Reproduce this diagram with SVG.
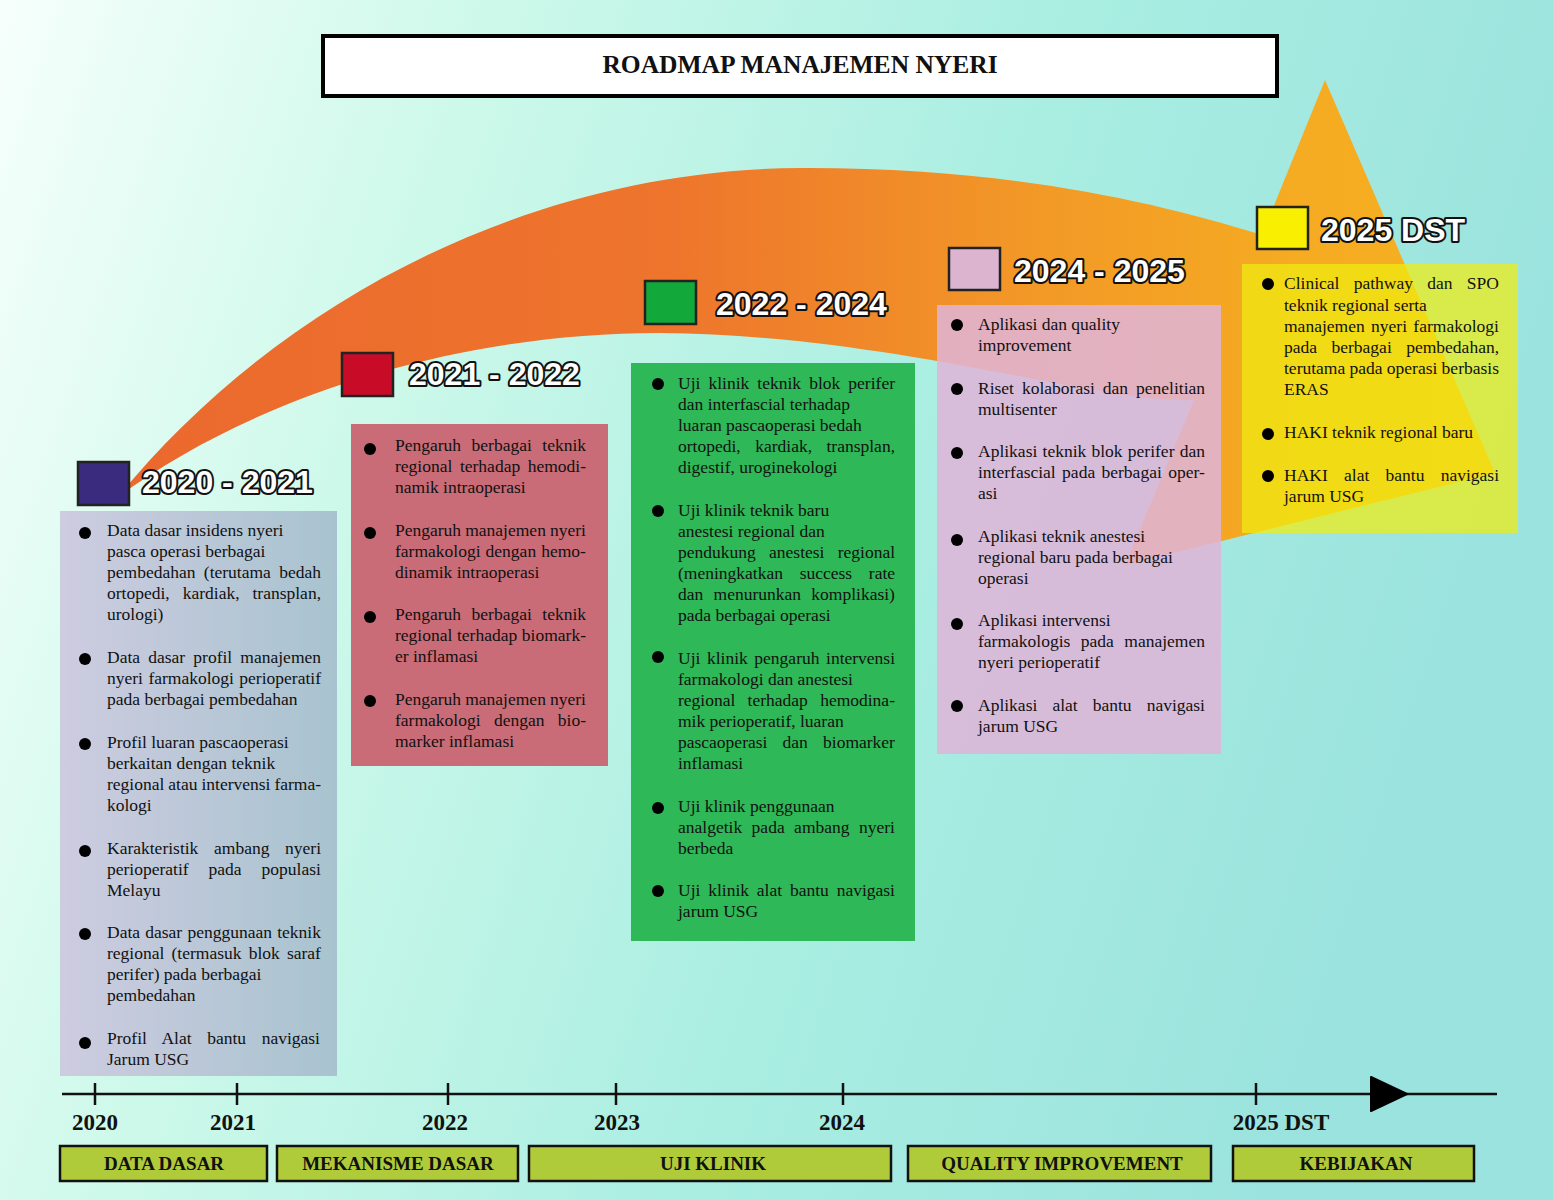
<svg xmlns="http://www.w3.org/2000/svg" width="1553" height="1200" viewBox="0 0 1553 1200">
<defs>
<linearGradient id="bg" x1="0" y1="0" x2="1" y2="0.25">
<stop offset="0" stop-color="#f6fffc"/>
<stop offset="0.3" stop-color="#cdf9ea"/>
<stop offset="0.65" stop-color="#aaeee2"/>
<stop offset="1" stop-color="#9be3de"/>
</linearGradient>
<linearGradient id="org" gradientUnits="userSpaceOnUse" x1="118" y1="0" x2="1500" y2="0">
<stop offset="0" stop-color="#eb682e"/>
<stop offset="0.4" stop-color="#ee752c"/>
<stop offset="0.65" stop-color="#f29727"/>
<stop offset="0.85" stop-color="#f5ab22"/>
<stop offset="1" stop-color="#f6b021"/>
</linearGradient>
<linearGradient id="g1" x1="0" y1="0" x2="1" y2="0">
<stop offset="0" stop-color="#cdcce0"/>
<stop offset="1" stop-color="#a8c3cf"/>
</linearGradient>
<style>
.t{font-family:"Liberation Serif","Times New Roman",serif;font-size:17.5px;fill:#111}
.yr{font-family:"Liberation Sans",Arial,sans-serif;font-weight:bold;font-size:32px;fill:#fff;stroke:#111;stroke-width:4;paint-order:stroke;stroke-linejoin:round}
.sq{stroke:#222;stroke-width:2.5}
.ax{font-family:"Liberation Serif","Times New Roman",serif;font-weight:bold;font-size:23px;fill:#111;text-anchor:middle}
.ph rect{fill:#b0cb3a;stroke:#111;stroke-width:2.5}
.ph text{font-family:"Liberation Serif","Times New Roman",serif;font-weight:bold;font-size:19px;fill:#111;text-anchor:middle}
.b{fill:#000}
</style>
</defs>
<rect width="1553" height="1200" fill="url(#bg)"/>

<g id="arrow">
<path d="M118,497 C270,310 520,170 800,168 C1000,167 1150,200 1262,235 L1325,80 L1495,473 L1125,565 L1194,400 C1100,405 900,335 660,333 C450,333 250,400 118,497 Z" fill="url(#org)"/>
</g>

<g id="title">
<rect x="323" y="36" width="954" height="60" fill="#fff" stroke="#000" stroke-width="4"/>
<text x="800" y="73" text-anchor="middle" style="font-family:'Liberation Serif','Times New Roman',serif;font-weight:bold;font-size:25.5px;fill:#111">ROADMAP MANAJEMEN NYERI</text>
</g>

<g id="phase-2020">
<rect x="60" y="511" width="277" height="565" fill="url(#g1)"/>
<rect class="sq" x="78" y="462" width="51" height="43" fill="#3a2b7f"/>
<text class="yr" x="142" y="493">2020 - 2021</text>
<circle class="b" cx="85" cy="533" r="6"/><circle class="b" cx="85" cy="659" r="6"/><circle class="b" cx="85" cy="744" r="6"/><circle class="b" cx="85" cy="851" r="6"/><circle class="b" cx="85" cy="934" r="6"/><circle class="b" cx="85" cy="1043" r="6"/>
<text class="t" x="107" y="536">Data dasar insidens nyeri</text>
<text class="t" x="107" y="557">pasca operasi berbagai</text>
<text class="t" x="107" y="578" word-spacing="4">pembedahan (terutama bedah</text>
<text class="t" x="107" y="599" word-spacing="8.6">ortopedi, kardiak, transplan,</text>
<text class="t" x="107" y="620">urologi)</text>
<text class="t" x="107" y="663" word-spacing="3.8">Data dasar profil manajemen</text>
<text class="t" x="107" y="684" word-spacing="1.05">nyeri farmakologi perioperatif</text>
<text class="t" x="107" y="705">pada berbagai pembedahan</text>
<text class="t" x="107" y="748">Profil luaran pascaoperasi</text>
<text class="t" x="107" y="769">berkaitan dengan teknik</text>
<text class="t" x="107" y="790" word-spacing="-0.4">regional atau intervensi farma-</text>
<text class="t" x="107" y="811">kologi</text>
<text class="t" x="107" y="854" word-spacing="11.3">Karakteristik ambang nyeri</text>
<text class="t" x="107" y="875" word-spacing="15.6">perioperatif pada populasi</text>
<text class="t" x="107" y="896">Melayu</text>
<text class="t" x="107" y="938" word-spacing="0.87">Data dasar penggunaan teknik</text>
<text class="t" x="107" y="959" word-spacing="2.8">regional (termasuk blok saraf</text>
<text class="t" x="107" y="980">perifer) pada berbagai</text>
<text class="t" x="107" y="1001">pembedahan</text>
<text class="t" x="107" y="1044" word-spacing="11.2">Profil Alat bantu navigasi</text>
<text class="t" x="107" y="1065">Jarum USG</text>
</g>

<g id="phase-2021">
<rect x="351" y="424" width="257" height="342" fill="#c96c77"/>
<rect class="sq" x="342" y="353" width="51" height="43" fill="#c80c28"/>
<text class="yr" x="409" y="385">2021 - 2022</text>
<circle class="b" cx="370" cy="449" r="6"/><circle class="b" cx="370" cy="533" r="6"/><circle class="b" cx="370" cy="617" r="6"/><circle class="b" cx="370" cy="701" r="6"/>
<text class="t" x="395" y="451" word-spacing="6.1">Pengaruh berbagai teknik</text>
<text class="t" x="395" y="472" word-spacing="3.2">regional terhadap hemodi-</text>
<text class="t" x="395" y="493">namik intraoperasi</text>
<text class="t" x="395" y="536" word-spacing="-0.25">Pengaruh manajemen nyeri</text>
<text class="t" x="395" y="557" word-spacing="0.7">farmakologi dengan hemo-</text>
<text class="t" x="395" y="578">dinamik intraoperasi</text>
<text class="t" x="395" y="620" word-spacing="6.1">Pengaruh berbagai teknik</text>
<text class="t" x="395" y="641" word-spacing="0.25">regional terhadap biomark-</text>
<text class="t" x="395" y="662">er inflamasi</text>
<text class="t" x="395" y="705" word-spacing="-0.25">Pengaruh manajemen nyeri</text>
<text class="t" x="395" y="726" word-spacing="9">farmakologi dengan bio-</text>
<text class="t" x="395" y="747">marker inflamasi</text>
</g>

<g id="phase-2022">
<rect x="631" y="363" width="284" height="578" fill="#2fb857"/>
<rect class="sq" x="645" y="281" width="51" height="43" fill="#12a83a"/>
<text class="yr" x="716" y="315">2022 - 2024</text>
<circle class="b" cx="658" cy="384" r="6"/><circle class="b" cx="658" cy="511" r="6"/><circle class="b" cx="658" cy="657" r="6"/><circle class="b" cx="658" cy="808" r="6"/><circle class="b" cx="658" cy="891" r="6"/>
<text class="t" x="678" y="389" word-spacing="3.7">Uji klinik teknik blok perifer</text>
<text class="t" x="678" y="410">dan interfascial terhadap</text>
<text class="t" x="678" y="431">luaran pascaoperasi bedah</text>
<text class="t" x="678" y="452" word-spacing="10.1">ortopedi, kardiak, transplan,</text>
<text class="t" x="678" y="473">digestif, uroginekologi</text>
<text class="t" x="678" y="516">Uji klinik teknik baru</text>
<text class="t" x="678" y="537">anestesi regional dan</text>
<text class="t" x="678" y="558" word-spacing="8.9">pendukung anestesi regional</text>
<text class="t" x="678" y="579" word-spacing="12.3">(meningkatkan success rate</text>
<text class="t" x="678" y="600" word-spacing="5.9">dan menurunkan komplikasi)</text>
<text class="t" x="678" y="621">pada berbagai operasi</text>
<text class="t" x="678" y="664" word-spacing="2.2">Uji klinik pengaruh intervensi</text>
<text class="t" x="678" y="685">farmakologi dan anestesi</text>
<text class="t" x="678" y="706" word-spacing="7.9">regional terhadap hemodina-</text>
<text class="t" x="678" y="727">mik perioperatif, luaran</text>
<text class="t" x="678" y="748" word-spacing="10.8">pascaoperasi dan biomarker</text>
<text class="t" x="678" y="769">inflamasi</text>
<text class="t" x="678" y="812">Uji klinik penggunaan</text>
<text class="t" x="678" y="833" word-spacing="5.1">analgetik pada ambang nyeri</text>
<text class="t" x="678" y="854">berbeda</text>
<text class="t" x="678" y="896" word-spacing="3.45">Uji klinik alat bantu navigasi</text>
<text class="t" x="678" y="917">jarum USG</text>
</g>

<g id="phase-2024">
<rect x="937" y="305" width="284" height="449" fill="#dfb5d8" fill-opacity="0.86"/>
<rect class="sq" x="949" y="248" width="51" height="42" fill="#dcb4d0"/>
<text class="yr" x="1014" y="282">2024 - 2025</text>
<circle class="b" cx="957" cy="325" r="6"/><circle class="b" cx="957" cy="389" r="6"/><circle class="b" cx="957" cy="453" r="6"/><circle class="b" cx="957" cy="540" r="6"/><circle class="b" cx="957" cy="624" r="6"/><circle class="b" cx="957" cy="706" r="6"/>
<text class="t" x="978" y="330">Aplikasi dan quality</text>
<text class="t" x="978" y="351">improvement</text>
<text class="t" x="978" y="394" word-spacing="3.6">Riset kolaborasi dan penelitian</text>
<text class="t" x="978" y="415">multisenter</text>
<text class="t" x="978" y="457" word-spacing="0.85">Aplikasi teknik blok perifer dan</text>
<text class="t" x="978" y="478" word-spacing="2">interfascial pada berbagai oper-</text>
<text class="t" x="978" y="499">asi</text>
<text class="t" x="978" y="542">Aplikasi teknik anestesi</text>
<text class="t" x="978" y="563">regional baru pada berbagai</text>
<text class="t" x="978" y="584">operasi</text>
<text class="t" x="978" y="626">Aplikasi intervensi</text>
<text class="t" x="978" y="647" word-spacing="6.1">farmakologis pada manajemen</text>
<text class="t" x="978" y="668">nyeri perioperatif</text>
<text class="t" x="978" y="711" word-spacing="10.7">Aplikasi alat bantu navigasi</text>
<text class="t" x="978" y="732">jarum USG</text>
</g>

<g id="phase-2025">
<rect x="1242" y="264" width="276" height="269" fill="#f0ed11" fill-opacity="0.72"/>
<rect class="sq" x="1257" y="207" width="51" height="42" fill="#f8f000"/>
<text class="yr" x="1321" y="241">2025 DST</text>
<circle class="b" cx="1268" cy="284" r="6"/><circle class="b" cx="1268" cy="434" r="6"/><circle class="b" cx="1268" cy="476" r="6"/>
<text class="t" x="1284" y="289" word-spacing="9.9">Clinical pathway dan SPO</text>
<text class="t" x="1284" y="311">teknik regional serta</text>
<text class="t" x="1284" y="332" word-spacing="2">manajemen nyeri farmakologi</text>
<text class="t" x="1284" y="353" word-spacing="10.1">pada berbagai pembedahan,</text>
<text class="t" x="1284" y="374" word-spacing="-0.1">terutama pada operasi berbasis</text>
<text class="t" x="1284" y="395">ERAS</text>
<text class="t" x="1284" y="438">HAKI teknik regional baru</text>
<text class="t" x="1284" y="481" word-spacing="11.9">HAKI alat bantu navigasi</text>
<text class="t" x="1284" y="502">jarum USG</text>
</g>

<g id="timeline">
<line x1="62" y1="1094" x2="1497" y2="1094" stroke="#111" stroke-width="2.5"/>
<g stroke="#111" stroke-width="2.5">
<line x1="95" y1="1083" x2="95" y2="1105"/>
<line x1="237" y1="1083" x2="237" y2="1105"/>
<line x1="448" y1="1083" x2="448" y2="1105"/>
<line x1="616" y1="1083" x2="616" y2="1105"/>
<line x1="843" y1="1083" x2="843" y2="1105"/>
<line x1="1256" y1="1083" x2="1256" y2="1105"/>
</g>
<path d="M1371,1077 L1407,1094 L1371,1111 Z" fill="#000" stroke="#000" stroke-width="2" stroke-linejoin="round"/>
<text class="ax" x="95" y="1130">2020</text>
<text class="ax" x="233" y="1130">2021</text>
<text class="ax" x="445" y="1130">2022</text>
<text class="ax" x="617" y="1130">2023</text>
<text class="ax" x="842" y="1130">2024</text>
<text class="ax" x="1281" y="1130">2025 DST</text>
</g>

<g id="phases" class="ph">
<g id="ph-data"><rect x="60" y="1146" width="207" height="35"/><text x="164" y="1170">DATA DASAR</text></g>
<g id="ph-mek"><rect x="277" y="1146" width="241" height="35"/><text x="398" y="1170">MEKANISME DASAR</text></g>
<g id="ph-uji"><rect x="529" y="1146" width="362" height="35"/><text x="713" y="1170">UJI KLINIK</text></g>
<g id="ph-qi"><rect x="908" y="1146" width="303" height="35"/><text x="1062" y="1170">QUALITY IMPROVEMENT</text></g>
<g id="ph-keb"><rect x="1233" y="1146" width="241" height="35"/><text x="1356" y="1170">KEBIJAKAN</text></g>
</g>
</svg>
